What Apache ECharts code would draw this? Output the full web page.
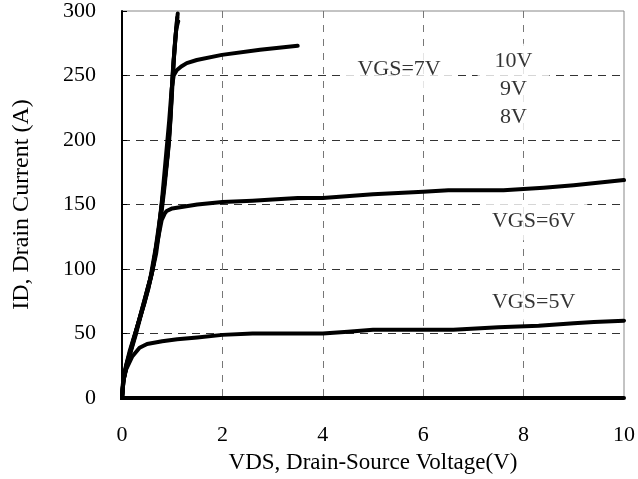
<!DOCTYPE html>
<html>
<head>
<meta charset="utf-8">
<script src="https://cdn.jsdelivr.net/npm/echarts@6/dist/echarts.min.js"></script>
<style>html,body{margin:0;padding:0;background:#fff;}#c{width:638px;height:479px;}</style>
</head>
<body>
<div id="c"></div>
<script>
// X ticks (VDS, V) and Y ticks (ID, A)
const xTicks = [0, 2, 4, 6, 8, 10];
const yTicks = [0, 50, 100, 150, 200, 250, 300];

// Output curves [VDS, ID]
const vgs10 = [[0,0],[0.02,12],[0.06,22],[0.15,36],[0.3,55],[0.45,74],[0.58,94],[0.68,112],[0.77,138],[0.85,165],[0.92,192],[0.97,222],[1.01,252],[1.06,278],[1.11,298]];
const vgs9  = [[0,0],[0.03,14],[0.09,26],[0.22,44],[0.37,64],[0.52,84],[0.63,104],[0.73,130],[0.82,158],[0.9,186],[0.96,214],[1.0,244],[1.05,272],[1.1,295]];
const vgs8  = [[0,0],[0.03,15],[0.11,28],[0.27,50],[0.42,72],[0.56,92],[0.67,116],[0.78,146],[0.86,172],[0.94,200],[0.99,232],[1.03,262],[1.08,286],[1.12,292]];
const vgs7  = [[0,0],[0.03,14],[0.1,27],[0.28,52],[0.45,76],[0.6,98],[0.72,126],[0.8,155],[0.87,185],[0.94,215],[0.99,240],[1.03,250],[1.09,254],[1.18,257],[1.29,259.6],[1.49,262],[1.99,266],[2.75,270],[3.5,273]];
const vgs6  = [[0,0],[0.03,14],[0.1,26],[0.28,50],[0.45,75],[0.6,98],[0.7,120],[0.79,138],[0.85,143],[0.89,145],[1.0,147],[1.5,150],[2,152],[2.6,153],[3,154],[3.5,155],[4,155],[5,158],[6,160],[6.5,161],[7.6,161],[8.4,163],[9,165],[10,169]];
const vgs5  = [[0,0],[0.02,12],[0.08,22],[0.2,32],[0.35,39],[0.5,42],[0.8,44],[1.1,45.6],[1.5,47],[2,49],[2.6,50],[4,50],[4.5,51.5],[5,53],[6,53],[6.6,53],[7.5,55],[8.3,56],[9,58],[9.4,59],[10,60]];
const vgs4  = [[0,0],[2,0],[4,0],[6,0],[8,0],[10,0]];

// Curve labels [VDS, ID] and texts
const labelTexts = ['VGS=7V', '10V\n9V\n8V', 'VGS=6V', 'VGS=5V'];
const labelPos = [[5.52, 255], [7.80, 239], [8.20, 137], [8.20, 74]];

const FONT = '"Liberation Serif", "Times New Roman", serif';
const chart = echarts.init(document.getElementById('c'), null, {renderer: 'canvas'});

function curve(name, data) {
  return {
    name: name, type: 'line', data: data, showSymbol: false, symbol: 'none',
    clip: false, smooth: false,
    lineStyle: {color: '#000', width: 4, cap: 'round', join: 'round'},
    z: 3
  };
}

const pads = [[8, 14, 8, 14], [4, 17, 4, 17], [8, 12, 8, 12], [8, 12, 8, 12]];
const labelData = labelTexts.map((t, i) => ({
  value: labelPos[i],
  label: {formatter: t, padding: pads[i], lineHeight: i === 1 ? 28 : 22}
}));

chart.setOption({
  animation: false,
  backgroundColor: '#fff',
  grid: {left: 122, right: 14, top: 10, bottom: 80, show: true, borderColor: '#888', borderWidth: 1, backgroundColor: 'transparent'},
  xAxis: {
    type: 'value', min: xTicks[0], max: xTicks[xTicks.length - 1], interval: 2,
    name: 'VDS, Drain-Source Voltage(V)', nameLocation: 'middle', nameGap: 50,
    nameTextStyle: {fontFamily: FONT, fontSize: 23, color: '#000'},
    axisLine: {show: false},
    axisTick: {show: false},
    axisLabel: {fontFamily: FONT, fontSize: 22, color: '#000', margin: 26},
    splitLine: {show: true, showMinLine: false, showMaxLine: false, lineStyle: {color: '#777', type: [7, 7], width: 1}}
  },
  yAxis: {
    type: 'value', min: yTicks[0], max: yTicks[yTicks.length - 1], interval: 50,
    name: 'ID, Drain Current (A)', nameLocation: 'middle', nameGap: 88, nameRotate: 90,
    nameTextStyle: {fontFamily: FONT, fontSize: 24, color: '#000'},
    axisLine: {show: true, lineStyle: {color: '#000', width: 2}},
    axisTick: {show: true, inside: true, length: 5, lineStyle: {color: '#000', width: 1}},
    axisLabel: {fontFamily: FONT, fontSize: 22, color: '#000', margin: 26, padding: [5, 0, 0, 0]},
    splitLine: {show: true, showMinLine: false, showMaxLine: false, lineStyle: {color: '#333', type: [8, 6], width: 1}}
  },
  series: [
    curve('VGS=4V', vgs4),
    curve('VGS=5V', vgs5),
    curve('VGS=6V', vgs6),
    curve('VGS=7V', vgs7),
    curve('VGS=8V', vgs8),
    curve('VGS=9V', vgs9),
    curve('VGS=10V', vgs10),
    {
      type: 'scatter', symbolSize: 0, z: 2, silent: true,
      data: labelData,
      label: {show: true, position: 'inside', fontFamily: FONT, fontSize: 22, color: '#000', backgroundColor: '#fff', align: 'center', verticalAlign: 'middle'}
    }
  ]
});
</script>
</body>
</html>
